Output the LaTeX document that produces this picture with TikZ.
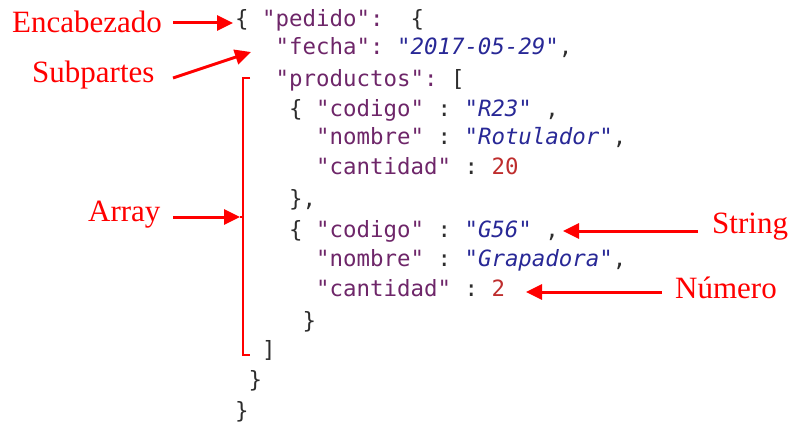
\documentclass[tikz,border=0pt]{standalone}
\usepackage{fontspec}
\setmainfont{Liberation Serif}
\newfontfamily\codefont{DejaVu Sans Mono}[WordSpace={1,0,0}]
\usetikzlibrary{arrows.meta}
\definecolor{keyc}{RGB}{110,38,105}
\definecolor{valc}{RGB}{40,40,150}
\definecolor{numc}{RGB}{190,45,45}
\definecolor{punc}{RGB}{45,45,45}
\definecolor{lab}{RGB}{255,0,0}
\newcommand{\K}[1]{\textcolor{keyc}{#1}}
\newcommand{\V}[1]{\textcolor{valc}{\itshape #1}}
\newcommand{\N}[1]{\textcolor{numc}{#1}}
\tikzset{
  codeline/.style={anchor=base west, inner sep=0pt, text=punc,
    font=\codefont\fontsize{22.4}{26}\selectfont},
  label/.style={anchor=base west, inner sep=0pt, text=lab,
    font=\fontsize{31}{36}\selectfont},
  arr/.style={draw=lab, line width=3pt,
    -{Triangle[length=16pt,width=15pt]}},
  brack/.style={draw=lab, line width=2.6pt}
}
\begin{document}
\begin{tikzpicture}[x=1pt,y=-1pt]
\useasboundingbox (0,0) rectangle (790,425);
% code lines
\node[codeline] (l1)  at (235,27)   {\{~\K{"pedido":}~~\{};
\node[codeline] (l2)  at (275.5,55) {\K{"fecha":}~\V{"2017-05-29"},};
\node[codeline] (l3)  at (275.5,87) {\K{"productos":}~[};
\node[codeline] (l4)  at (289,117)  {\{~\K{"codigo"}~:~\V{"R23"}~,};
\node[codeline] (l5)  at (316,145)  {\K{"nombre"}~:~\V{"Rotulador"},};
\node[codeline] (l6)  at (316,175)  {\K{"cantidad"}~:~\N{20}};
\node[codeline] (l7)  at (289,206)  {\},};
\node[codeline] (l8)  at (289,237)  {\{~\K{"codigo"}~:~\V{"G56"}~,};
\node[codeline] (l9)  at (316,266)  {\K{"nombre"}~:~\V{"Grapadora"},};
\node[codeline] (l10) at (316,296)  {\K{"cantidad"}~:~\N{2}};
\node[codeline] (l11) at (302.5,328) {\}};
\node[codeline] (l12) at (262,357)  {]};
\node[codeline] (l13) at (248.5,387) {\}};
\node[codeline] (l14) at (235,418)  {\}};
% labels
\node[label] (enc) at (12,33)  {Encabezado};
\node[label] (sub) at (32,83)  {Subpartes};
\node[label] (arrl) at (88,222) {Array};
\node[label] (str) at (712,233) {String};
\node[label] (num) at (675,298) {Número};
% arrow end points
\coordinate (encS) at (173,23);
\coordinate (encT) at (233,23);
\coordinate (subS) at (173,78);
\coordinate (subT) at (251,52);
\coordinate (arrS) at (173,217);
\coordinate (arrT) at (240,217);
\coordinate (strS) at (698,231);
\coordinate (strT) at (563,231);
\coordinate (numS) at (662,292);
\coordinate (numT) at (526,292);
% bracket
\coordinate (bTop) at (250,78);
\coordinate (bBot) at (250,355);
\draw[brack] (bTop) -- (243,78) -- (243,355) -- (bBot);
\draw[brack] (arrT) -- (243,217);
% arrows
\draw[arr] (encS) -- (encT);
\draw[arr] (subS) -- (subT);
\draw[arr] (arrS) -- (arrT);
\draw[arr] (strS) -- (strT);
\draw[arr] (numS) -- (numT);
\end{tikzpicture}
\end{document}
